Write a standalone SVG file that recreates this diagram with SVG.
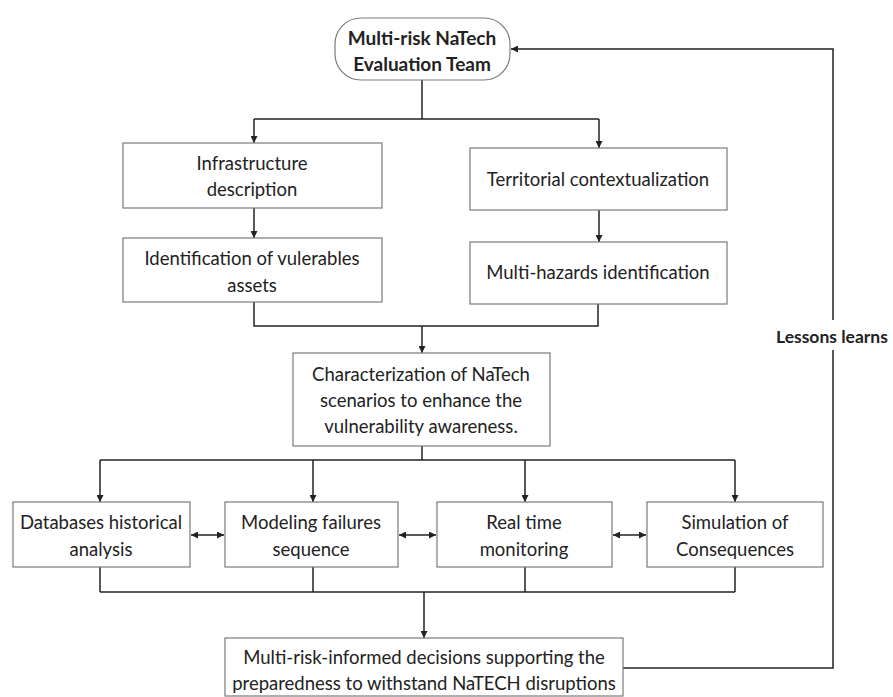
<svg xmlns="http://www.w3.org/2000/svg" width="893" height="697" viewBox="0 0 893 697">
<style>
.box{fill:#fff;stroke:#7a7a7a;stroke-width:1.2}
.t{font-family:Lato,"Open Sans","Liberation Sans",sans-serif;font-size:18.5px;fill:#222;text-anchor:middle}
.b{font-weight:bold;font-size:19px}
.c{fill:none;stroke:#222;stroke-width:1.5}
</style>
<defs>
<marker id="ah" viewBox="0 0 10 10" refX="10" refY="5" markerWidth="7" markerHeight="7" orient="auto-start-reverse" markerUnits="userSpaceOnUse">
<path d="M0,0 L10,5 L0,10 z" fill="#222"/>
</marker>
</defs>
<rect width="893" height="697" fill="#fff"/>
<g id="connectors">
<path class="c" d="M422,80 V119"/>
<path class="c" d="M254,119 H599"/>
<path class="c" d="M254,119 V143" marker-end="url(#ah)"/>
<path class="c" d="M599,119 V148" marker-end="url(#ah)"/>
<path class="c" d="M254,208 V238" marker-end="url(#ah)"/>
<path class="c" d="M599,210 V242" marker-end="url(#ah)"/>
<path class="c" d="M254,302 V326 H598 V304"/>
<path class="c" d="M422,326 V353" marker-end="url(#ah)"/>
<path class="c" d="M422,446 V460"/>
<path class="c" d="M100,460 H735"/>
<path class="c" d="M100,460 V502" marker-end="url(#ah)"/>
<path class="c" d="M313,460 V502" marker-end="url(#ah)"/>
<path class="c" d="M525,460 V502" marker-end="url(#ah)"/>
<path class="c" d="M735,460 V502" marker-end="url(#ah)"/>
<path class="c" d="M191,535 H224" marker-start="url(#ah)" marker-end="url(#ah)"/>
<path class="c" d="M399,535 H436" marker-start="url(#ah)" marker-end="url(#ah)"/>
<path class="c" d="M613,535 H646" marker-start="url(#ah)" marker-end="url(#ah)"/>
<path class="c" d="M100,567 V592 M313,567 V592 M525,567 V592 M735,567 V592"/>
<path class="c" d="M100,592 H735"/>
<path class="c" d="M424,592 V638" marker-end="url(#ah)"/>
<path class="c" d="M623,668 H833 V350"/>
<path class="c" d="M833,320 V49 H511" marker-end="url(#ah)"/>
<text class="t b" x="776" y="343" style="text-anchor:start;font-size:17.5px">Lessons learns</text>
</g>
<g id="n-team">
<rect class="box" x="335" y="18" width="175" height="62" rx="26" ry="26"/>
<text class="t b" x="422" y="45">Multi-risk NaTech</text>
<text class="t b" x="422" y="71">Evaluation Team</text>
</g>
<g id="n-infra">
<rect class="box" x="123" y="143" width="259" height="65"/>
<text class="t" x="252" y="170">Infrastructure</text>
<text class="t" x="252" y="196">description</text>
</g>
<g id="n-ident">
<rect class="box" x="123" y="238" width="259" height="64"/>
<text class="t" x="252" y="265">Identification of vulerables</text>
<text class="t" x="252" y="292">assets</text>
</g>
<g id="n-terr">
<rect class="box" x="470" y="148" width="257" height="62"/>
<text class="t" x="598" y="186">Territorial contextualization</text>
</g>
<g id="n-multi">
<rect class="box" x="470" y="242" width="257" height="62"/>
<text class="t" x="598" y="279">Multi-hazards identification</text>
</g>
<g id="n-char">
<rect class="box" x="293" y="353" width="257" height="93"/>
<text class="t" x="421" y="381">Characterization of NaTech</text>
<text class="t" x="421" y="407">scenarios to enhance  the</text>
<text class="t" x="421" y="433">vulnerability awareness.</text>
</g>
<g id="n-db">
<rect class="box" x="13" y="502" width="177" height="65"/>
<text class="t" x="101" y="529">Databases historical</text>
<text class="t" x="101" y="556">analysis</text>
</g>
<g id="n-model">
<rect class="box" x="225" y="502" width="173" height="65"/>
<text class="t" x="311" y="529">Modeling failures</text>
<text class="t" x="311" y="556">sequence</text>
</g>
<g id="n-rt">
<rect class="box" x="437" y="502" width="175" height="65"/>
<text class="t" x="524" y="529">Real time</text>
<text class="t" x="524" y="556">monitoring</text>
</g>
<g id="n-sim">
<rect class="box" x="647" y="502" width="176" height="65"/>
<text class="t" x="735" y="529">Simulation of</text>
<text class="t" x="735" y="556">Consequences</text>
</g>
<g id="n-decision">
<rect class="box" x="225" y="638" width="398" height="58"/>
<text class="t" x="424" y="664">Multi-risk-informed decisions supporting the</text>
<text class="t" x="424" y="690">preparedness to withstand NaTECH disruptions</text>
</g>
</svg>
